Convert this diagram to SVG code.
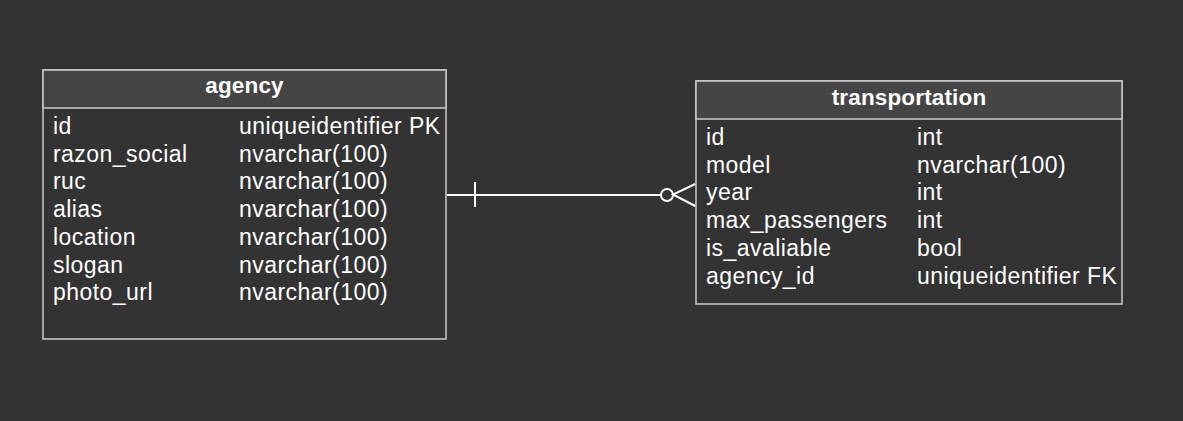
<svg xmlns="http://www.w3.org/2000/svg" width="1183" height="421" viewBox="0 0 1183 421">
<style>
.box{fill:#333333;stroke:#cccccc;stroke-width:1.5}
.hdr{fill:#454545;stroke:#cccccc;stroke-width:1.5}
.title{font-family:"Liberation Sans",Arial,sans-serif;font-size:22.5px;font-weight:bold;fill:#ffffff;text-anchor:middle;letter-spacing:0.15px}
.t{font-family:"Liberation Sans",Arial,sans-serif;font-size:23px;fill:#ffffff;letter-spacing:0.45px}
.ln{stroke:#ffffff;stroke-width:2;fill:none}
</style>
<rect width="1183" height="421" fill="#333333"/>
<g id="agency">
<rect class="box" x="43" y="70" width="403" height="269"/>
<rect class="hdr" x="43" y="70" width="403" height="38"/>
<text class="title" x="244.5" y="93">agency</text>
<text class="t" x="53" y="134">id</text><text class="t" x="239" y="134">uniqueidentifier PK</text>
<text class="t" x="53" y="161.7">razon_social</text><text class="t" x="239" y="161.7">nvarchar(100)</text>
<text class="t" x="53" y="189.4">ruc</text><text class="t" x="239" y="189.4">nvarchar(100)</text>
<text class="t" x="53" y="217.1">alias</text><text class="t" x="239" y="217.1">nvarchar(100)</text>
<text class="t" x="53" y="244.8">location</text><text class="t" x="239" y="244.8">nvarchar(100)</text>
<text class="t" x="53" y="272.5">slogan</text><text class="t" x="239" y="272.5">nvarchar(100)</text>
<text class="t" x="53" y="300.2">photo_url</text><text class="t" x="239" y="300.2">nvarchar(100)</text>
</g>
<g id="transportation">
<rect class="box" x="696" y="81" width="426" height="223"/>
<rect class="hdr" x="696" y="81" width="426" height="38"/>
<text class="title" x="909" y="105">transportation</text>
<text class="t" x="706" y="145">id</text><text class="t" x="917" y="145">int</text>
<text class="t" x="706" y="172.7">model</text><text class="t" x="917" y="172.7">nvarchar(100)</text>
<text class="t" x="706" y="200.4">year</text><text class="t" x="917" y="200.4">int</text>
<text class="t" x="706" y="228.1">max_passengers</text><text class="t" x="917" y="228.1">int</text>
<text class="t" x="706" y="255.8">is_avaliable</text><text class="t" x="917" y="255.8">bool</text>
<text class="t" x="706" y="283.5">agency_id</text><text class="t" x="917" y="283.5">uniqueidentifier FK</text>
</g>
<g id="connectors">
<path class="ln" d="M446.8 195 H661"/>
<path class="ln" d="M475 182 V207"/>
<circle class="ln" cx="667" cy="195" r="6"/>
<path class="ln" d="M695.2 184 L673 194.5 L695.2 206"/>
</g>
</svg>
